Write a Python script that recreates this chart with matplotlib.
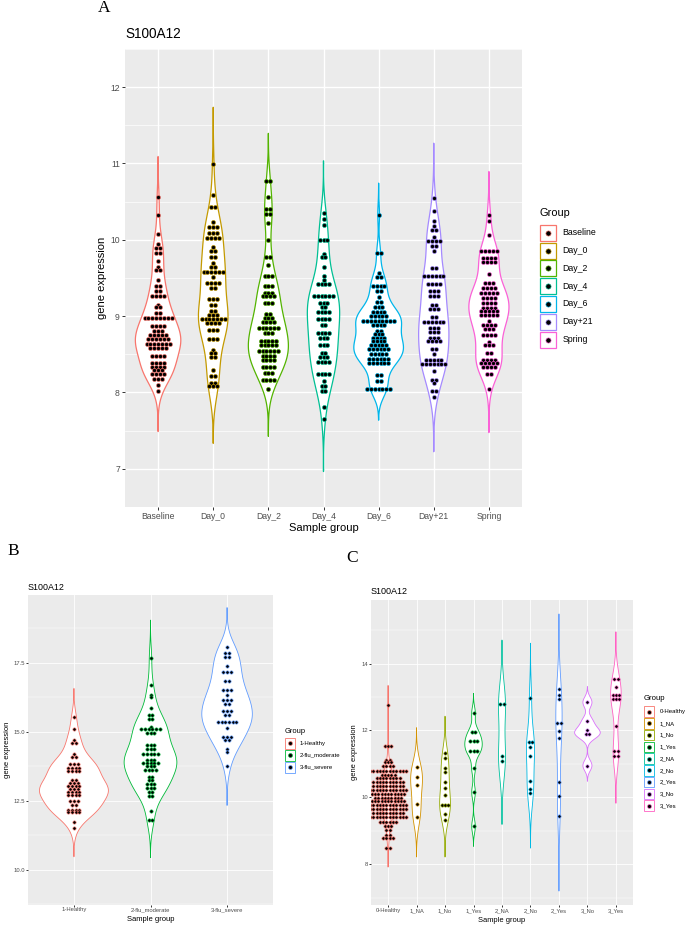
import numpy as np
import matplotlib.pyplot as plt
from matplotlib.patches import Rectangle

plt.rcParams['font.family'] = ['Liberation Sans', 'DejaVu Sans']

W, H = 685, 925

# ---------------- panel A: S100A12 by sample group ----------------
a_groups = ["Baseline", "Day_0", "Day_2", "Day_4", "Day_6", "Day+21", "Spring"]
a_colors = ["#F8766D", "#C49A00", "#53B400", "#00C094", "#00B6EB", "#A58AFF", "#FB61D7"]
# dot rows: binned expression value and number of dots in the row
a_levels = {
    "Baseline": [10.56, 10.32, 10.07, 9.95, 9.89, 9.83, 9.72, 9.64, 9.60, 9.47, 9.40, 9.33, 9.26, 9.15, 9.12, 9.04,
                 8.98, 8.87, 8.81, 8.75, 8.70, 8.64, 8.58, 8.48, 8.39, 8.34, 8.29, 8.24, 8.18, 8.10, 8.02],
    "Day_0": [10.99, 10.59, 10.43, 10.23, 10.17, 10.09, 10.03, 9.90, 9.85, 9.77, 9.70, 9.65, 9.58, 9.51, 9.43, 9.37,
              9.23, 9.15, 9.07, 9.01, 8.96, 8.91, 8.82, 8.70, 8.56, 8.52, 8.47, 8.30, 8.21, 8.12, 8.08],
    "Day_2": [10.77, 10.56, 10.41, 10.34, 10.22, 10.00, 9.78, 9.67, 9.52, 9.40, 9.30, 9.26, 9.17, 9.03, 8.98, 8.93,
              8.85, 8.78, 8.67, 8.62, 8.54, 8.48, 8.42, 8.34, 8.25, 8.16, 8.05],
    "Day_4": [10.35, 10.27, 10.20, 10.00, 9.82, 9.77, 9.65, 9.53, 9.47, 9.42, 9.26, 9.17, 9.12, 9.05, 8.96, 8.88,
              8.78, 8.71, 8.62, 8.52, 8.47, 8.40, 8.24, 8.15, 8.08, 8.02, 7.81, 7.65],
    "Day_6": [10.33, 9.83, 9.57, 9.51, 9.40, 9.33, 9.25, 9.19, 9.12, 9.05, 9.00, 8.94, 8.88, 8.81, 8.77, 8.71,
              8.67, 8.62, 8.57, 8.51, 8.44, 8.38, 8.23, 8.15, 8.05],
    "Day+21": [10.55, 10.38, 10.25, 10.18, 10.13, 10.04, 9.98, 9.92, 9.85, 9.63, 9.52, 9.42, 9.33, 9.26, 9.14, 9.09,
               8.99, 8.93, 8.85, 8.79, 8.72, 8.67, 8.57, 8.51, 8.43, 8.37, 8.28, 8.16, 8.12, 8.02, 7.94],
    "Spring": [10.32, 10.25, 10.06, 9.85, 9.76, 9.71, 9.55, 9.43, 9.37, 9.31, 9.24, 9.17, 9.11, 9.07, 9.01, 8.94,
               8.89, 8.83, 8.75, 8.66, 8.62, 8.52, 8.43, 8.39, 8.33, 8.24, 8.05],
}
a_counts = {
    "Baseline": [1, 1, 1, 1, 2, 2, 1, 1, 2, 1, 2, 2, 4, 1, 2, 2, 8, 4, 3, 5, 6, 7, 5, 4, 4, 4, 3, 4, 3, 1, 1],
    "Day_0": [1, 1, 2, 1, 3, 3, 4, 1, 2, 2, 1, 2, 6, 1, 4, 2, 3, 2, 2, 3, 7, 4, 3, 3, 1, 2, 2, 1, 2, 2, 3],
    "Day_2": [2, 1, 2, 2, 1, 1, 2, 1, 3, 3, 3, 4, 3, 2, 3, 4, 6, 3, 5, 5, 6, 4, 4, 4, 3, 4, 1],
    "Day_4": [1, 1, 1, 3, 1, 2, 1, 1, 1, 4, 6, 3, 2, 4, 4, 2, 4, 3, 3, 2, 3, 4, 4, 1, 2, 2, 1, 1],
    "Day_6": [1, 2, 1, 2, 4, 2, 1, 2, 3, 4, 5, 9, 4, 2, 3, 4, 4, 5, 6, 5, 6, 6, 2, 2, 7],
    "Day+21": [1, 1, 1, 1, 2, 1, 4, 2, 1, 2, 6, 4, 3, 3, 2, 3, 2, 6, 3, 3, 3, 4, 2, 1, 5, 7, 1, 2, 1, 2, 1],
    "Spring": [1, 1, 1, 5, 4, 4, 1, 3, 4, 5, 4, 4, 4, 5, 5, 1, 4, 3, 4, 1, 3, 2, 4, 5, 4, 2, 1],
}
a_yticks = [7, 8, 9, 10, 11, 12]

# ---------------- panel B: flu severity ----------------
b_groups = ["1-Healthy", "2-flu_moderate", "3-flu_severe"]
b_colors = ["#F8766D", "#00BA38", "#619CFF"]
b_levels = {
    "1-Healthy": [15.52, 15.08, 14.71, 14.58, 14.21, 14.09, 13.82, 13.70, 13.57, 13.25, 13.15, 13.04, 12.92,
                  12.81, 12.70, 12.48, 12.36, 12.16, 12.08, 11.74, 11.52],
    "2-flu_moderate": [17.66, 16.70, 16.34, 16.24, 15.84, 15.60, 15.46, 15.16, 15.09, 14.95, 14.52, 14.39, 14.18,
                       13.98, 13.88, 13.75, 13.62, 13.36, 13.25, 13.09, 12.98, 12.81, 12.68, 12.12, 11.82],
    "3-flu_severe": [18.07, 17.86, 17.71, 17.36, 17.16, 16.84, 16.49, 16.31, 16.16, 16.01, 15.76, 15.61, 15.36,
                     15.14, 14.82, 14.69, 14.39, 14.26, 13.75],
}
b_counts = {
    "1-Healthy": [1, 1, 1, 2, 1, 2, 3, 4, 4, 2, 3, 4, 3, 4, 4, 3, 2, 4, 4, 1, 1],
    "2-flu_moderate": [1, 1, 1, 1, 1, 2, 2, 1, 6, 3, 3, 3, 5, 3, 5, 3, 4, 2, 2, 3, 3, 2, 2, 1, 2],
    "3-flu_severe": [1, 2, 2, 1, 3, 2, 3, 1, 3, 2, 3, 2, 6, 1, 3, 2, 1, 1, 1],
}
b_yticks = [10.0, 12.5, 15.0, 17.5]

# ---------------- panel C: severity x outcome ----------------
c_groups = ["0-Healthy", "1_NA", "1_No", "1_Yes", "2_NA", "2_No", "2_Yes", "3_No", "3_Yes"]
c_colors = ["#F8766D", "#D39200", "#93AA00", "#00BA38", "#00C19F", "#00B9E3", "#619CFF", "#DB72FB", "#FF61C3"]
c_levels = {
    "0-Healthy": [12.76, 11.52, 11.13, 11.05, 10.93, 10.79, 10.68, 10.57, 10.45, 10.34, 10.21, 10.10, 9.99,
                  9.89, 9.77, 9.64, 9.54, 9.40, 9.25, 9.13, 9.03, 8.88, 8.77, 8.50],
    "1_NA": [10.90, 10.60, 10.36, 9.79, 9.40],
    "1_No": [11.33, 11.17, 10.88, 10.75, 10.46, 10.27, 10.08, 9.76, 9.50, 9.31],
    "1_Yes": [12.51, 11.95, 11.67, 11.38, 10.87, 10.15, 9.13],
    "2_NA": [12.79, 11.25, 11.10],
    "2_No": [12.96, 11.66, 11.50, 11.23, 10.48, 10.24, 10.13],
    "2_Yes": [13.23, 13.07, 12.94, 12.22, 11.97, 11.77, 10.46, 10.03, 9.45],
    "3_No": [12.84, 12.28, 12.02, 11.88, 10.95],
    "3_Yes": [13.54, 13.31, 13.06, 12.93, 12.14, 11.37, 11.23],
}
c_counts = {
    "0-Healthy": [1, 3, 2, 3, 4, 12, 5, 8, 10, 10, 12, 11, 9, 11, 12, 12, 10, 12, 6, 3, 2, 2, 4, 2],
    "1_NA": [1, 1, 1, 1, 1],
    "1_No": [1, 1, 1, 1, 1, 1, 1, 3, 1, 1],
    "1_Yes": [1, 2, 3, 3, 1, 1, 1],
    "2_NA": [2, 1, 1],
    "2_No": [1, 2, 1, 1, 1, 1, 1],
    "2_Yes": [1, 1, 1, 2, 1, 1, 1, 1, 1],
    "3_No": [1, 1, 1, 2, 1],
    "3_Yes": [2, 1, 3, 3, 1, 2, 2],
}
c_yticks = [8, 10, 12, 14]


def nrd0(x):
    # R's default bandwidth
    sd = np.std(x, ddof=1)
    q75, q25 = np.percentile(x, [75, 25])
    lo = min(sd, (q75 - q25) / 1.34)
    if lo <= 0:
        lo = sd
    return 0.9 * lo * len(x) ** -0.2


def violin_density(x):
    bw = nrd0(x)
    grid = np.linspace(x.min() - 3 * bw, x.max() + 3 * bw, 512)
    z = (grid[:, None] - x[None, :]) / bw
    dens = np.exp(-0.5 * z ** 2).sum(axis=1) / (len(x) * bw * np.sqrt(2 * np.pi))
    return grid, dens


fig = plt.figure(figsize=(W / 100, H / 100), dpi=100)


def panel(box, groups, colors, levels, counts, yticks, ylabels, dx, dot_s, vlw, glw, tsize, tlen, tpad):
    left, top, right, bottom = box
    ax = fig.add_axes([left / W, 1 - bottom / H, (right - left) / W, (bottom - top) / H])
    ax.set_facecolor('#EBEBEB')
    dens = [violin_density(np.repeat(levels[g], counts[g]).astype(float)) for g in groups]
    dmax = max(d.max() for _, d in dens)
    lo = min(y.min() for y, _ in dens)
    hi = max(y.max() for y, _ in dens)
    pad = (hi - lo) * 0.05
    for i, g in enumerate(groups):
        xc = i + 1
        y, d = dens[i]
        w = 0.45 * d / dmax
        ax.fill(np.r_[xc - w, (xc + w)[::-1]], np.r_[y, y[::-1]], facecolor='white',
                edgecolor=colors[i], lw=vlw, zorder=2)
        xs, ys = [], []
        for v, n in zip(levels[g], counts[g]):
            for k in range(n):
                xs.append(xc + (k - (n - 1) / 2) * dx)
                ys.append(v)
        ax.scatter(xs, ys, s=dot_s, c='black', edgecolors=colors[i], linewidths=0.45, zorder=3)
    ax.set_xlim(0.4, len(groups) + 0.6)
    ax.set_ylim(lo - pad, hi + pad)
    ax.set_xticks(range(1, len(groups) + 1))
    ax.set_xticklabels(groups)
    ax.set_yticks(yticks)
    ax.set_yticklabels(ylabels)
    step = yticks[1] - yticks[0]
    ax.set_yticks([t + step / 2 for t in [yticks[0] - step] + list(yticks)], minor=True)
    ax.set_axisbelow(True)
    ax.grid(which='major', color='white', lw=glw)
    ax.grid(which='minor', axis='y', color='white', lw=glw * 0.5)
    for s in ax.spines.values():
        s.set_visible(False)
    ax.tick_params(which='major', length=tlen, width=0.7, color='#333333', labelcolor='#4D4D4D',
                   labelsize=tsize, pad=tpad)
    ax.tick_params(which='minor', length=0)
    return ax


panel((125, 49, 522, 507), a_groups, a_colors, a_levels, a_counts, a_yticks,
      [str(t) for t in a_yticks], 0.0697, 8.5, 0.9, 1.0, 6.2, 2.5, 1.2)
panel((28, 595, 273, 904.5), b_groups, b_colors, b_levels, b_counts, b_yticks,
      ["%.1f" % t for t in b_yticks], 0.0478, 5.5, 0.6, 0.6, 4.2, 1.5, 0.6)
panel((371, 600, 633, 905), c_groups, c_colors, c_levels, c_counts, c_yticks,
      [str(t) for t in c_yticks], 0.115, 5.5, 0.6, 0.6, 4.2, 1.5, 0.6)

# overlay in pixel coordinates for titles, letters and legends
ov = fig.add_axes([0, 0, 1, 1], zorder=10)
ov.set_xlim(0, W)
ov.set_ylim(H, 0)
ov.axis('off')
ov.patch.set_alpha(0)

serif = ['Liberation Serif', 'DejaVu Serif']
ov.text(104.5, 8.5, "A", family=serif, fontsize=12.5, ha='center', va='center')
ov.text(13, 551, "B", family=serif, fontsize=12.5, ha='center', va='center')
ov.text(352.5, 558, "C", family=serif, fontsize=12.5, ha='center', va='center')

# panel titles and axis titles
ov.text(125, 34.3, "S100A12", fontsize=9.8, ha='left', va='center')
ov.text(323.5, 528.3, "Sample group", fontsize=8, ha='center', va='center')
ov.text(101.7, 278, "gene expression", fontsize=8, ha='center', va='center', rotation=90)

ov.text(28, 587, "S100A12", fontsize=6.4, ha='left', va='center')
ov.text(150.5, 919.3, "Sample group", fontsize=5.5, ha='center', va='center')
ov.text(7.3, 750, "gene expression", fontsize=5.5, ha='center', va='center', rotation=90)

ov.text(371, 592, "S100A12", fontsize=6.5, ha='left', va='center')
ov.text(501.5, 920, "Sample group", fontsize=5.4, ha='center', va='center')
ov.text(355, 752, "gene expression", fontsize=5.4, ha='center', va='center', rotation=90)


def legend(labels, colors, x0, ty, ky0, step, key, lx, tfs, lfs, dot_s, lw):
    ov.text(x0, ty, "Group", fontsize=tfs, ha='left', va='center')
    for i, (lab, c) in enumerate(zip(labels, colors)):
        cy = ky0 + i * step
        ov.add_patch(Rectangle((x0 + lw / 2, cy - key / 2), key, key, facecolor='white', edgecolor=c, lw=lw))
        ov.scatter([x0 + lw / 2 + key / 2], [cy], s=dot_s, c='black', edgecolors=c, linewidths=0.45, zorder=5)
        ov.text(lx, cy, lab, fontsize=lfs, ha='left', va='center')


legend(a_groups, a_colors, 539.3, 213.3, 232.7, 17.8, 16, 562.3, 7.9, 6.3, 14, 0.9)
legend(b_groups, b_colors, 284.3, 731.7, 743.3, 12.0, 10.5, 299.3, 5.4, 4.3, 8, 0.6)
legend(c_groups, c_colors, 643.3, 698.3, 711.7, 11.75, 10.5, 659.3, 5.6, 4.3, 8, 0.6)

fig.savefig("out.png", dpi=100)
